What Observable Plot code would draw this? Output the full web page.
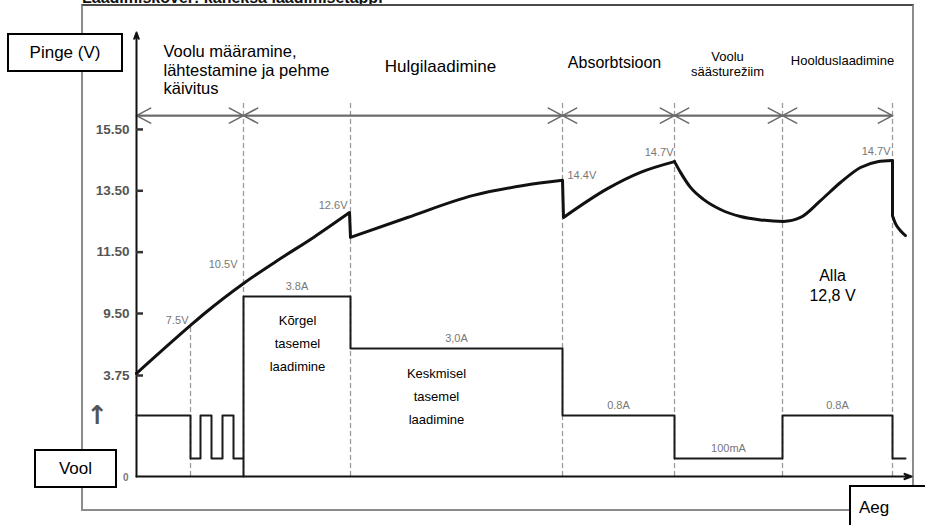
<!DOCTYPE html>
<html><head><meta charset="utf-8">
<script src="https://cdn.jsdelivr.net/npm/d3@7"></script>
<script src="https://cdn.jsdelivr.net/npm/@observablehq/plot@0.6"></script>
<style>
body{margin:0;background:#fff;font-family:Arial,"Liberation Sans",sans-serif;}
#wrap{position:relative;width:925px;height:525px;overflow:hidden;background:#fff}
#frame{position:absolute;left:81px;top:4px;width:829px;height:503px;border:2px solid #8c8c8c;border-top-color:#4a4a4a}
.layer{position:absolute;left:0;top:0}
.layer svg{background:transparent !important;overflow:visible}
.box{position:absolute;background:#fff;border:2px solid #000;box-sizing:border-box;font-size:17px;display:flex;align-items:center;justify-content:center;color:#000}
#title{position:absolute;left:82px;top:-11px;font-weight:bold;font-size:16px;white-space:nowrap;color:#111}
</style></head><body>
<div id="wrap">
  <div id="title">Laadimiskõver: kaheksa laadimisetappi</div>
  <div id="frame"></div>
  <div id="vplot" class="layer"></div>
  <div id="cplot" class="layer"></div>
  <div class="box" style="left:7px;top:33px;width:116px;height:39px">Pinge (V)</div>
  <div class="box" style="left:34px;top:449px;width:83px;height:39px">Vool</div>
  <div class="box" style="left:849px;top:485px;width:90px;height:45px;justify-content:flex-start;padding-left:8px">Aeg</div>
</div>
<script>
// ---------------- data ----------------
const timeMax = 775;                       // arbitrary time units
const phaseStart = [0, 107, 426, 538, 646];
const phaseEnd   = [107, 426, 538, 646, 756];
const phaseNames = ["Voolu määramine,\nlähtestamine ja pehme\nkäivitus", "Hulgilaadimine", "Absorbtsioon", "Voolu\nsäästurežiim", "Hoolduslaadimine"];
const stageBounds = [107, 214, 426, 538, 646, 756];

const voltTicks = [3.75, 9.5, 11.5, 13.5, 15.5];
const voltTickLabels = ["3.75", "9.50", "11.50", "13.50", "15.50"];

// voltage curve, split into smooth segments
const vSeg  = [1,1,1,1,1,1,1, 2,2,2,2,2, 3,3,3,3, 4,4,4,4,4,4,4,4,4,4,4,4,4,4, 5,5,5,5];
const vTime = [0,54,68,107,144,177,213, 214,271,337,387,426, 427,471,504,538,
               538,544,554,567,584,604,624,647,664,684,704,724,741,756, 756,759,764,769];
const vVolt = [3.94,8.39,9.5,10.48,11.29,11.98,12.79, 11.98,12.63,13.35,13.67,13.84, 12.63,13.57,14.10,14.45,
               14.45,14.10,13.61,13.22,12.89,12.66,12.55,12.50,12.63,13.18,13.77,14.26,14.45,14.49, 12.69,12.43,12.20,12.04];

// current (step after)
const cTime = [0, 54, 64, 75, 86, 97, 107, 107, 214, 426, 538, 646, 756, 769];
const cAmp  = [0.8, 0.1, 0.8, 0.1, 0.8, 0.1, 0, 3.8, 3.0, 0.8, 0.1, 0.8, 0.1, 0.1];

const vLabelTime = [54, 107, 213, 426, 538, 756];
const vLabelText = ["7.5V", "10.5V", "12.6V", "14.4V", "14.7V", "14.7V"];

const cLabelStart = [107, 214, 426, 538, 646];
const cLabelEnd   = [214, 426, 538, 646, 756];
const cLabelAmp   = [3.8, 3.0, 0.8, 0.1, 0.8];
const cLabelText  = ["3.8A", "3,0A", "0.8A", "100mA", "0.8A"];

const noteText = ["Kõrgel\ntasemel\nlaadimine", "Keskmisel\ntasemel\nlaadimine"];
const noteTime = [161, 300];
const noteAmp  = [3.12, 1.52];
const alla = {text: "Alla\n12,8 V", t: 696, v: 10.45};

const headingTime = [27, 304, 478, 591, 706];
const headingVolt = [17.44, 17.55, 17.68, 17.65, 17.75];
const phaseRowVolt = 15.95;
const dashTopVolt = 16.4;
const voltTop = 18.66;

// ---------------- build ----------------
const volt = vTime.map((t, i) => ({t, v: vVolt[i], seg: vSeg[i]}));
const cur = cTime.map((t, i) => ({t, a: cAmp[i]}));
const phases = phaseStart.map((s, i) => ({s, e: phaseEnd[i], name: phaseNames[i]}));
const segIds = [...new Set(vSeg)];
const drops = segIds.slice(1).map((id, k) => {
  const prev = volt.filter(d => d.seg === segIds[k]);
  const next = volt.find(d => d.seg === id);
  const a = prev[prev.length - 1];
  return {t1: a.t, v1: a.v, t2: next.t, v2: next.v};
});
const vLabels = vLabelTime.map((t, i) => {
  const p = volt.find(d => d.t === t);
  return {t, v: p.v, text: vLabelText[i], i};
});
const vLabelStyle = [
  {anchor: "end", dx: -2, dy: -5}, {anchor: "end", dx: -6, dy: -19}, {anchor: "end", dx: -2, dy: -7},
  {anchor: "start", dx: 5, dy: -5}, {anchor: "end", dx: -1, dy: -9}, {anchor: "end", dx: -2, dy: -9}
];
const pulseT = cTime[1];
const pulseV = volt.find(d => d.t === pulseT).v;
const cLabels = cLabelText.map((text, i) => ({t: (cLabelStart[i] + cLabelEnd[i]) / 2, a: cLabelAmp[i], text}));
const notes = noteText.map((text, i) => ({text, t: noteTime[i], a: noteAmp[i]}));

const font = "Arial, 'Liberation Sans', sans-serif";
const X = {type: "linear", domain: [0, timeMax], range: [136, 911], axis: null};

const vPlot = Plot.plot({
  width: 925, height: 525, margin: 0,
  style: {fontFamily: font, background: "transparent"},
  x: X,
  y: {type: "linear", domain: [0, 3.75, 9.5, voltTop], range: [476, 375, 313, 32], axis: null},
  marks: [
    Plot.ruleX(stageBounds, {y1: 0, y2: dashTopVolt, stroke: "#9a9a9a", strokeWidth: 1.3, strokeDasharray: "5,3"}),
    Plot.ruleX([pulseT], {y1: 0, y2: pulseV, stroke: "#9a9a9a", strokeWidth: 1.3, strokeDasharray: "5,3"}),
    // phase arrows (double-headed)
    Plot.arrow(phases, {x1: "s", x2: "e", y1: phaseRowVolt, y2: phaseRowVolt, stroke: "#6a6a6a", strokeWidth: 1.6, headLength: 15, headAngle: 56}),
    Plot.arrow(phases, {x1: "e", x2: "s", y1: phaseRowVolt, y2: phaseRowVolt, stroke: "#6a6a6a", strokeWidth: 1.6, headLength: 15, headAngle: 56}),
    // axes
    Plot.arrow([0], {x1: 0, x2: 0, y1: 0, y2: voltTop, stroke: "#111", strokeWidth: 2, headLength: 5, headAngle: 40}),
    Plot.arrow([0], {x1: 0, x2: timeMax, y1: 0, y2: 0, stroke: "#111", strokeWidth: 2.2, headLength: 5, headAngle: 40}),
    Plot.ruleY(voltTicks, {x1: 0, x2: 7, stroke: "#333", strokeWidth: 2.5}),
    Plot.text(voltTicks, {x: 0, y: d => d, text: (d, i) => voltTickLabels[i], textAnchor: "end", dx: -7, fontSize: 13.5, fill: "#555", fontWeight: "bold"}),
    Plot.text([0], {x: 0, y: 0, text: ["0"], textAnchor: "end", dx: -8, dy: 1, fontSize: 10, fill: "#777", fontWeight: "bold"}),
    // voltage curve
    Plot.line(volt, {x: "t", y: "v", z: "seg", curve: "monotone-x", stroke: "#111", strokeWidth: 3}),
    Plot.link(drops, {x1: "t1", y1: "v1", x2: "t2", y2: "v2", stroke: "#111", strokeWidth: 3}),
    // voltage labels
    ...vLabels.map((d) => Plot.text([d], {x: "t", y: "v", text: "text", textAnchor: vLabelStyle[d.i].anchor, dx: vLabelStyle[d.i].dx, dy: vLabelStyle[d.i].dy, fontSize: 11, fill: "#777"})),
    // headings
    Plot.text([phases[0]], {x: headingTime[0], y: headingVolt[0], text: "name", textAnchor: "start", fontSize: 16.5, lineHeight: 1.12, fill: "#000"}),
    Plot.text([phases[1]], {x: headingTime[1], y: headingVolt[1], text: "name", fontSize: 17, fill: "#000"}),
    Plot.text([phases[2]], {x: headingTime[2], y: headingVolt[2], text: "name", fontSize: 16, fill: "#000"}),
    Plot.text([phases[3]], {x: headingTime[3], y: headingVolt[3], text: "name", fontSize: 13, lineHeight: 1.2, fill: "#000"}),
    Plot.text([phases[4]], {x: headingTime[4], y: headingVolt[4], text: "name", fontSize: 13, fill: "#000"}),
    Plot.text([alla], {x: "t", y: "v", text: "text", fontSize: 16, lineHeight: 1.3, fill: "#000"})
  ]
});
document.getElementById("vplot").appendChild(vPlot);

const cPlot = Plot.plot({
  width: 925, height: 525, margin: 0,
  style: {fontFamily: font, background: "transparent"},
  x: X,
  y: {type: "linear", domain: [0, 0.1, 0.8, 3.0, 3.8], range: [476, 458, 415, 348, 296], axis: null},
  marks: [
    Plot.line(cur, {x: "t", y: "a", curve: "step-after", stroke: "#1a1a1a", strokeWidth: 2}),
    Plot.text(cLabels, {x: "t", y: "a", text: "text", dy: -10, fontSize: 11, fill: "#777"}),
    Plot.text(notes, {x: "t", y: "a", text: "text", fontSize: 13, lineHeight: 1.78, fill: "#000"}),
    Plot.text([0.8], {x: -39, y: d => d, text: ["↑"], fontSize: 26, fontWeight: "bold", fill: "#555", fontFamily: "DejaVu Sans"})
  ]
});
document.getElementById("cplot").appendChild(cPlot);
</script>
</body></html>
